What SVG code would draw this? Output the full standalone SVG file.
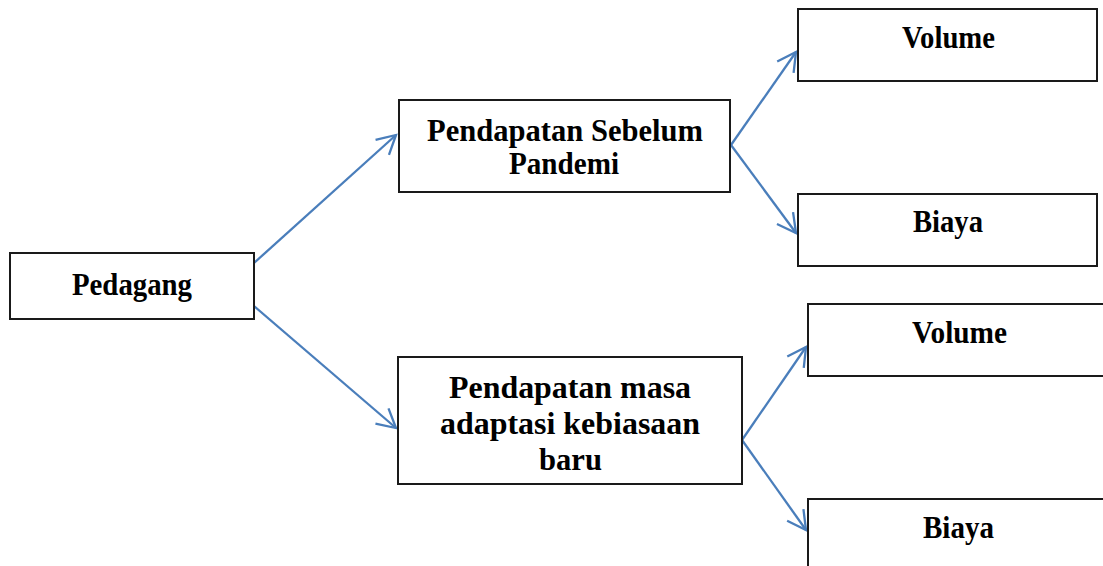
<svg xmlns="http://www.w3.org/2000/svg" width="1103" height="566" viewBox="0 0 1103 566">
<style>
.box{fill:#fff;stroke:#1a1a1a;stroke-width:2}
.t{font-family:'Liberation Serif',serif;font-weight:700;font-size:32px;fill:#000}
.c{fill:none;stroke:#4a7ebb;stroke-width:2.3}
</style>
<defs>
<marker id="ah" markerUnits="userSpaceOnUse" markerWidth="26" markerHeight="26" viewBox="-22 -13 26 26" refX="0" refY="0" orient="auto">
<path d="M -18.5 -10 L 0 0 L -18.5 10" fill="none" stroke="#4a7ebb" stroke-width="2.3"/>
</marker>
</defs>
<rect width="1103" height="566" fill="#fff"/>
<g id="connectors">
<line class="c" x1="254" y1="263" x2="396" y2="135" marker-end="url(#ah)"/>
<line class="c" x1="254" y1="306" x2="396" y2="428" marker-end="url(#ah)"/>
<line class="c" x1="731" y1="145" x2="796" y2="52" marker-end="url(#ah)"/>
<line class="c" x1="731" y1="145" x2="796" y2="233" marker-end="url(#ah)"/>
<line class="c" x1="742" y1="440" x2="806" y2="347" marker-end="url(#ah)"/>
<line class="c" x1="742" y1="440" x2="806" y2="530" marker-end="url(#ah)"/>
</g>
<g id="pedagang">
<rect class="box" x="10" y="253" width="244" height="66"/>
<text class="t" x="72" y="295" textLength="120" lengthAdjust="spacingAndGlyphs">Pedagang</text>
</g>
<g id="sebelum">
<rect class="box" x="399" y="100" width="331" height="92"/>
<text class="t" x="427" y="141" textLength="276" lengthAdjust="spacingAndGlyphs">Pendapatan Sebelum</text>
<text class="t" x="509" y="174" textLength="110" lengthAdjust="spacingAndGlyphs">Pandemi</text>
</g>
<g id="adaptasi">
<rect class="box" x="398" y="357" width="344" height="127"/>
<text class="t" x="449" y="398" textLength="242" lengthAdjust="spacingAndGlyphs">Pendapatan masa</text>
<text class="t" x="440" y="434" textLength="260" lengthAdjust="spacingAndGlyphs">adaptasi kebiasaan</text>
<text class="t" x="539" y="470" textLength="63" lengthAdjust="spacingAndGlyphs">baru</text>
</g>
<g id="volume1">
<rect class="box" x="798" y="9" width="299" height="72"/>
<text class="t" x="902" y="48" textLength="93" lengthAdjust="spacingAndGlyphs">Volume</text>
</g>
<g id="biaya1">
<rect class="box" x="798" y="194" width="299" height="72"/>
<text class="t" x="913" y="232" textLength="70" lengthAdjust="spacingAndGlyphs">Biaya</text>
</g>
<g id="volume2">
<rect class="box" x="808" y="304" width="310" height="72"/>
<text class="t" x="912" y="343" textLength="95" lengthAdjust="spacingAndGlyphs">Volume</text>
</g>
<g id="biaya2">
<rect class="box" x="808" y="499" width="310" height="90"/>
<text class="t" x="923" y="538" textLength="71" lengthAdjust="spacingAndGlyphs">Biaya</text>
</g>
</svg>
